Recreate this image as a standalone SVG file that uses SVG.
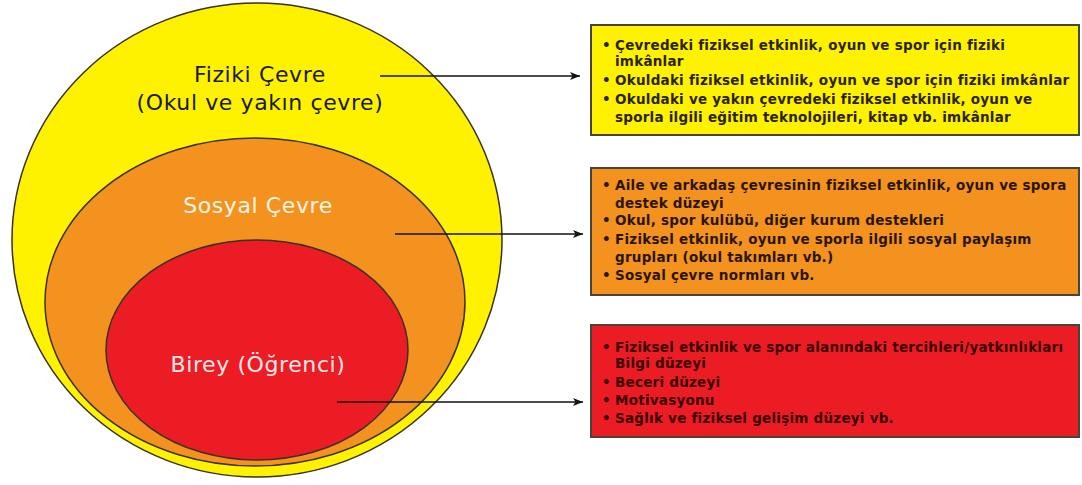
<svg xmlns="http://www.w3.org/2000/svg" width="1082" height="485" viewBox="0 0 1082 485">
<defs>
<marker id="ah" viewBox="0 0 10 8" refX="10" refY="4" markerWidth="10" markerHeight="8" markerUnits="userSpaceOnUse" orient="auto">
<path d="M0,0 L10,4 L0,8 L2.5,4 Z" fill="#111"/>
</marker>
<style>
.ring{stroke:#3a3020;stroke-width:1.5}
.lbl{font-family:"DejaVu Sans","Noto Sans",sans-serif;font-size:22px;text-anchor:middle;letter-spacing:0.6px}
.box{stroke:#4a4438;stroke-width:2}
.bt{font-family:"DejaVu Sans","Noto Sans",sans-serif;font-size:13.5px;font-weight:bold;letter-spacing:0.24px}
.conn{stroke:#111;stroke-width:1.5;fill:none}
</style>
</defs>
<rect width="1082" height="485" fill="#ffffff"/>
<g id="fiziki">
<ellipse class="ring" cx="257" cy="240" rx="245" ry="237" fill="#FFF200"/>
<text class="lbl" x="260" y="82" fill="#1a1a1a">Fiziki Çevre</text>
<text class="lbl" x="260" y="110" fill="#1a1a1a">(Okul ve yakın çevre)</text>
</g>
<g id="sosyal">
<ellipse class="ring" cx="255" cy="302" rx="210" ry="164" fill="#F4921F"/>
<text class="lbl" x="258" y="213" fill="#fff5e6">Sosyal Çevre</text>
</g>
<g id="birey">
<ellipse class="ring" cx="257" cy="350" rx="151" ry="110" fill="#EC1C24"/>
<text class="lbl" x="258" y="372" fill="#fde8e8">Birey (Öğrenci)</text>
</g>
<g id="box-fiziki">
<rect class="box" x="591" y="25" width="488" height="110" fill="#FFF200"/>
<g class="bt" fill="#2a2300">
<text x="602" y="50">•</text><text x="615" y="50">Çevredeki fiziksel etkinlik, oyun ve spor için  fiziki</text>
<text x="615" y="66">imkânlar</text>
<text x="602" y="85">•</text><text x="615" y="85">Okuldaki fiziksel etkinlik, oyun ve spor için fiziki imkânlar</text>
<text x="602" y="104">•</text><text x="615" y="104">Okuldaki ve yakın çevredeki fiziksel etkinlik, oyun ve</text>
<text x="615" y="122">sporla ilgili eğitim teknolojileri, kitap vb. imkânlar</text>
</g>
</g>
<g id="box-sosyal">
<rect class="box" x="591" y="168" width="488" height="127" fill="#F4921F"/>
<g class="bt" fill="#2a1500">
<text x="602" y="190">•</text><text x="615" y="190">Aile ve arkadaş çevresinin fiziksel etkinlik, oyun ve spora</text>
<text x="615" y="208">destek düzeyi</text>
<text x="602" y="225">•</text><text x="615" y="225">Okul, spor kulübü, diğer kurum destekleri</text>
<text x="602" y="244">•</text><text x="615" y="244">Fiziksel etkinlik, oyun ve sporla ilgili sosyal paylaşım</text>
<text x="615" y="262">grupları (okul takımları vb.)</text>
<text x="602" y="280">•</text><text x="615" y="280">Sosyal çevre normları vb.</text>
</g>
</g>
<g id="box-birey">
<rect class="box" x="591" y="325" width="488" height="112" fill="#EC1C24"/>
<g class="bt" fill="#3a0000">
<text x="602" y="352">•</text><text x="615" y="352">Fiziksel etkinlik ve spor alanındaki tercihleri/yatkınlıkları</text>
<text x="615" y="368">Bilgi düzeyi</text>
<text x="602" y="387">•</text><text x="615" y="387">Beceri düzeyi</text>
<text x="602" y="405">•</text><text x="615" y="405">Motivasyonu</text>
<text x="602" y="423">•</text><text x="615" y="423">Sağlık ve fiziksel gelişim düzeyi vb.</text>
</g>
</g>
<g id="connectors">
<line class="conn" x1="380" y1="76" x2="580" y2="76" marker-end="url(#ah)"/>
<line class="conn" x1="395" y1="234" x2="583" y2="234" marker-end="url(#ah)"/>
<line class="conn" x1="337" y1="402" x2="583" y2="402" marker-end="url(#ah)"/>
</g>
</svg>
